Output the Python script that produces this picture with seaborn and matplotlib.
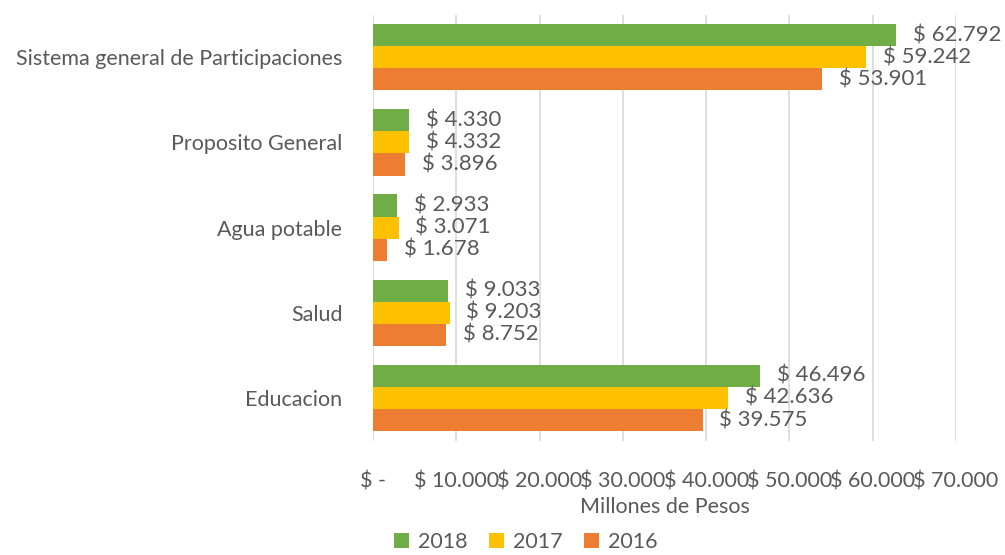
import matplotlib
matplotlib.use("Agg")
import matplotlib.pyplot as plt
import seaborn as sns
import pandas as pd

categories = ["Sistema general de Participaciones", "Proposito General", "Agua potable", "Salud", "Educacion"]
years = ["2018", "2017", "2016"]
v2018 = [62792, 4330, 2933, 9033, 46496]
v2017 = [59242, 4332, 3071, 9203, 42636]
v2016 = [53901, 3896, 1678, 8752, 39575]
xticks = [0, 10000, 20000, 30000, 40000, 50000, 60000, 70000]
xticklabels = ["$ -", "$ 10.000", "$ 20.000", "$ 30.000", "$ 40.000", "$ 50.000", "$ 60.000", "$ 70.000"]
colors = ["#70AD47", "#FFC000", "#ED7D31"]

rows = []
for yr, vals in zip(years, [v2018, v2017, v2016]):
    for c, v in zip(categories, vals):
        rows.append({"cat": c, "year": yr, "val": v})
df = pd.DataFrame(rows)

sns.set_theme(style="white")
plt.rcParams['font.family'] = ['Lato', 'DejaVu Sans']
txt = "#595959"
fs = 15.5

fig = plt.figure(figsize=(10.05, 5.55), dpi=100)
ax = fig.add_axes([373/1005, 1-440.6/555, (956-373)/1005, (440.6-14.6)/555])
sns.barplot(data=df, y="cat", x="val", hue="year", order=categories, hue_order=years,
            palette=colors, orient="h", width=0.78, ax=ax, legend=True, saturation=1,
            edgecolor="none")
ax.set_xlim(0, 70000)
ax.set_xticks(xticks)
ax.set_xticklabels(xticklabels, fontsize=fs, color=txt)
ax.tick_params(axis="x", length=0, pad=22)
ax.tick_params(axis="y", length=0, pad=22, labelsize=fs, labelcolor=txt)
ax.set_ylabel("")
ax.set_xlabel("Millones de Pesos", fontsize=fs, color=txt, labelpad=4)
for s in ax.spines.values():
    s.set_visible(False)
ax.xaxis.grid(True, color="#D9D9D9", linewidth=1.2)
ax.set_axisbelow(True)

def fmt(v):
    return "$ " + f"{v:,}".replace(",", ".")

for cont in ax.containers:
    for bar, v in zip(cont, cont.datavalues):
        ax.annotate(fmt(int(v)), (bar.get_width(), bar.get_y() + bar.get_height()/2),
                    xytext=(12, 0), textcoords="offset points", va="center", ha="left",
                    fontsize=16, color=txt)

leg = ax.legend(loc="center", bbox_to_anchor=(0.262, -0.238), ncol=3, frameon=False,
                fontsize=fs, handlelength=0.7, handleheight=0.7, columnspacing=1.0,
                handletextpad=0.4, labelcolor=txt, borderpad=0.2)
fig.savefig("out.png", dpi=100)
